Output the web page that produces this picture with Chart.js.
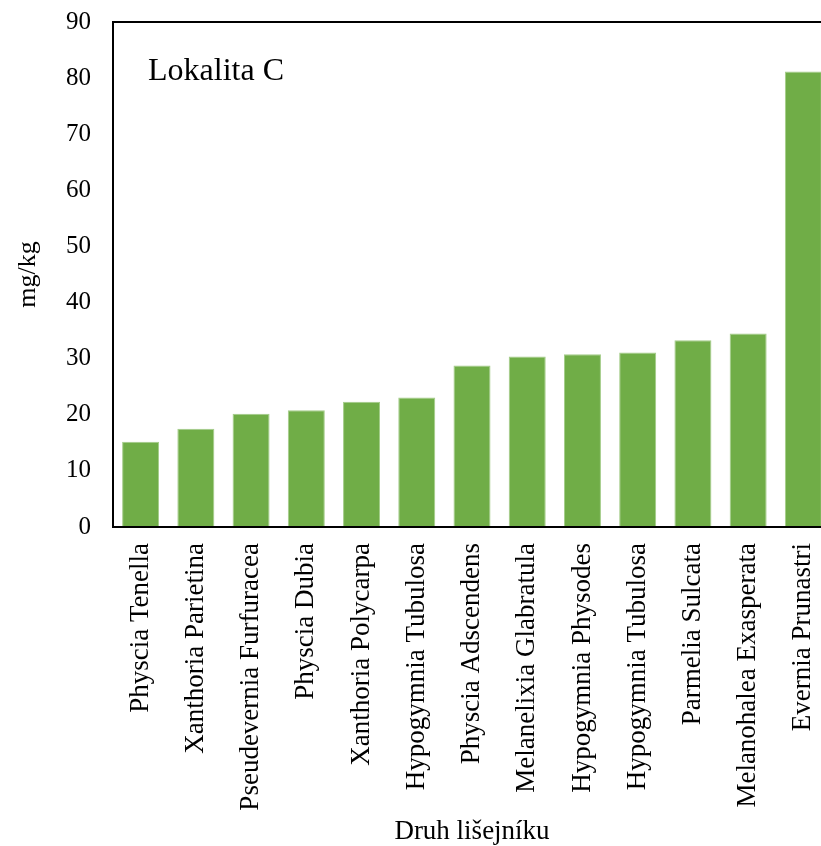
<!DOCTYPE html>
<html>
<head>
<meta charset="utf-8">
<script src="https://cdn.jsdelivr.net/npm/chart.js@4/dist/chart.umd.min.js"></script>
<style>
  html, body { margin: 0; padding: 0; background: #ffffff; overflow: hidden; }
  #wrap { position: relative; width: 831px; height: 846px; }
</style>
</head>
<body>
<div id="wrap"><canvas id="c" width="831" height="846"></canvas></div>
<script>
const categories = [
  "Physcia Tenella", "Xanthoria Parietina", "Pseudevernia Furfuracea", "Physcia Dubia",
  "Xanthoria Polycarpa", "Hypogymnia Tubulosa", "Physcia Adscendens", "Melanelixia Glabratula",
  "Hypogymnia Physodes", "Hypogymnia Tubulosa", "Parmelia Sulcata", "Melanohalea Exasperata",
  "Evernia Prunastri"
];
const values = [15.2, 17.5, 20.2, 20.8, 22.3, 23.1, 28.8, 30.4, 30.8, 31.1, 33.3, 34.5, 81.2];
const yTicks = [0, 10, 20, 30, 40, 50, 60, 70, 80, 90];
const panelLabel = "Lokalita C";
const xTitle = "Druh lišejníku";
const yTitle = "mg/kg";

const serif = "'Liberation Serif', 'Times New Roman', serif";

const labelPlugin = {
  id: 'panelLabel',
  afterDraw(chart) {
    const ctx = chart.ctx;
    const a = chart.chartArea;
    ctx.save();
    ctx.font = "32px " + serif;
    ctx.fillStyle = "#000";
    ctx.textBaseline = "middle";
    ctx.textAlign = "left";
    ctx.fillText(panelLabel, a.left + 35, a.top + 50);
    ctx.restore();
  }
};

new Chart(document.getElementById('c'), {
  type: 'bar',
  data: {
    labels: categories,
    datasets: [{
      data: values,
      backgroundColor: '#70AD47',
      borderColor: '#A3CC88',
      borderWidth: 1,
      categoryPercentage: 1.0,
      barPercentage: 0.67
    }]
  },
  options: {
    responsive: false,
    animation: false,
    devicePixelRatio: 1,
    layout: { padding: { top: 22, right: 0, bottom: 0, left: 0 } },
    plugins: { legend: { display: false }, tooltip: { enabled: false } },
    scales: {
      x: {
        grid: { display: false, drawTicks: false },
        border: { display: true, color: '#000', width: 2 },
        ticks: {
          color: '#000',
          font: { family: serif, size: 27 },
          maxRotation: 90, minRotation: 90,
          autoSkip: false,
          padding: 16
        },
        title: {
          display: true, text: xTitle, color: '#000',
          font: { family: serif, size: 27 },
          padding: { top: 0, bottom: -2 }
        },
        afterFit(scale) {
          scale.height = 319;
          scale.paddingLeft = 0; scale.paddingRight = 0;
        }
      },
      y: {
        min: 0, max: 90,
        afterBuildTicks(scale) { scale.ticks = yTicks.map(v => ({ value: v })); },
        grid: {
          drawTicks: false,
          color: (c) => (c.tick && c.tick.value === 90 ? '#000' : 'rgba(0,0,0,0)'),
          lineWidth: 2
        },
        border: { display: true, color: '#000', width: 2 },
        ticks: {
          color: '#000',
          font: { family: serif, size: 25 },
          padding: 22
        },
        title: {
          display: true, text: yTitle, color: '#000',
          font: { family: serif, size: 26 },
          padding: { top: 13, bottom: 0 }
        },
        afterFit(scale) {
          scale.width = 113;
          scale.paddingTop = 0; scale.paddingBottom = 0;
        }
      }
    }
  },
  plugins: [labelPlugin]
});
</script>
</body>
</html>
